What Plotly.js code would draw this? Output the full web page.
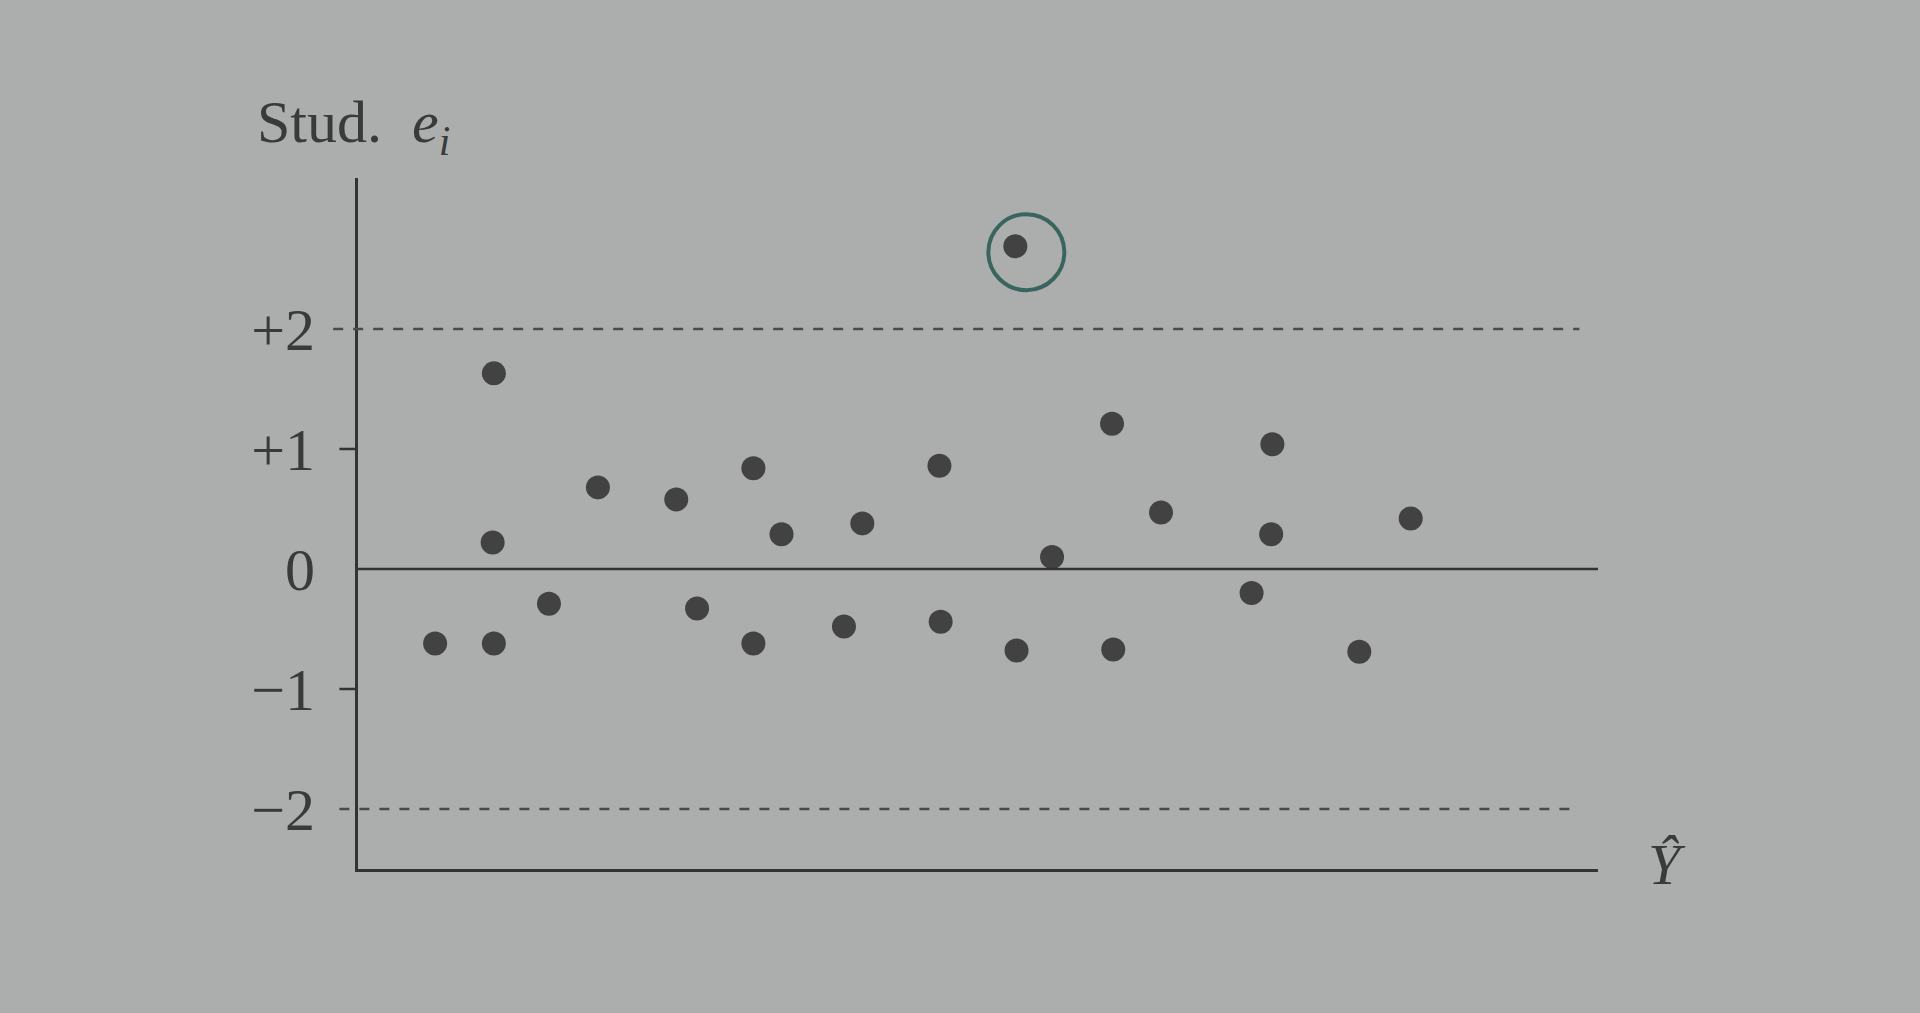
<!DOCTYPE html>
<html>
<head>
<meta charset="utf-8">
<script src="https://cdn.plot.ly/plotly-3.0.1.min.js"></script>
<style>
html, body { margin: 0; padding: 0; background: #acaeae; }
#chart { width: 1920px; height: 1013px; }
</style>
</head>
<body>
<div id="chart"></div>
<script>
// Fitted values (Y-hat, arbitrary units) and studentized residuals
const yhat = [6.3, 11.1, 11.0, 11.1, 15.6, 19.6, 26.0, 27.7, 32.3, 34.6, 32.3, 39.7, 41.2,
              47.5, 47.6, 53.7, 53.8, 56.7, 61.6, 61.7, 65.6, 73.0, 74.7, 74.6, 81.8, 86.0];
const studResid = [-0.62, 1.63, 0.22, -0.62, -0.29, 0.68, 0.58, -0.33, 0.84, 0.29, -0.62, -0.48, 0.38,
                   0.86, -0.44, 2.69, -0.68, 0.10, 1.21, -0.67, 0.47, -0.20, 1.04, 0.29, -0.69, 0.42];
// Outlier highlight (circled point)
const outlierX = [54.6];
const outlierY = [2.64];
// Axis ticks
const tickVals = [-2, -1, 0, 1, 2];
const tickText = ['\u22122', '\u22121', '0', '+1', '+2'];
const limitVals = [2, -2];

const ink = '#3a3a3a';
const serif = 'Liberation Serif, Times New Roman, serif';

const traces = [
  {
    x: yhat, y: studResid, type: 'scatter', mode: 'markers',
    marker: { size: 24, color: '#424242' }, hoverinfo: 'x+y', showlegend: false
  },
  {
    x: outlierX, y: outlierY, type: 'scatter', mode: 'markers',
    marker: { symbol: 'circle-open', size: 76, color: '#3a655e', line: { width: 4, color: '#3a655e' } },
    hoverinfo: 'skip', showlegend: false
  }
];

const shapes = [
  // zero reference line
  { type: 'line', xref: 'paper', yref: 'y', x0: 0, x1: 1.0, y0: 0, y1: 0,
    line: { color: '#333', width: 2.5 } },
  // +/-2 dashed limits
  { type: 'line', xref: 'paper', yref: 'y', x0: -0.020, x1: 0.985, y0: limitVals[0], y1: limitVals[0],
    line: { color: '#4a4a4a', width: 2.5, dash: '10px,10px' } },
  { type: 'line', xref: 'paper', yref: 'y', x0: -0.015, x1: 0.985, y0: limitVals[1], y1: limitVals[1],
    line: { color: '#4a4a4a', width: 2.5, dash: '10px,10px' } },
  // tick marks at +/-1
  { type: 'line', xref: 'paper', yref: 'y', x0: -0.015, x1: 0, y0: 1, y1: 1,
    line: { color: '#333', width: 2.5 } },
  { type: 'line', xref: 'paper', yref: 'y', x0: -0.015, x1: 0, y0: -1, y1: -1,
    line: { color: '#333', width: 2.5 } }
];

const layout = {
  width: 1920, height: 1013,
  paper_bgcolor: '#acaeae', plot_bgcolor: 'rgba(0,0,0,0)',
  margin: { l: 358, r: 322, t: 178, b: 144 },
  font: { family: serif, color: ink },
  xaxis: {
    range: [0, 101.3], showgrid: false, zeroline: false, showticklabels: false,
    ticks: '', showline: true, linecolor: '#333', linewidth: 2.5, fixedrange: true
  },
  yaxis: {
    range: [-2.5, 3.258], showgrid: false, zeroline: false,
    tickvals: tickVals, ticktext: tickText, ticks: '',
    ticklabelstandoff: 28,
    tickfont: { family: serif, size: 60, color: ink },
    showline: true, linecolor: '#333', linewidth: 3, fixedrange: true
  },
  shapes: shapes,
  annotations: [
    { xref: 'paper', yref: 'paper', x: -0.083, y: 1.075, xanchor: 'left', yanchor: 'middle',
      text: 'Stud.\u00a0 <i>e<sub>i</sub></i>', showarrow: false,
      font: { family: serif, size: 60, color: ink } },
    { xref: 'paper', yref: 'paper', x: 1.056, y: 0.006, xanchor: 'center', yanchor: 'middle',
      text: '<i>\u0176</i>', showarrow: false,
      font: { family: serif, size: 58, color: ink } }
  ]
};

Plotly.newPlot('chart', traces, layout, { displayModeBar: false, staticPlot: true });
</script>
</body>
</html>
